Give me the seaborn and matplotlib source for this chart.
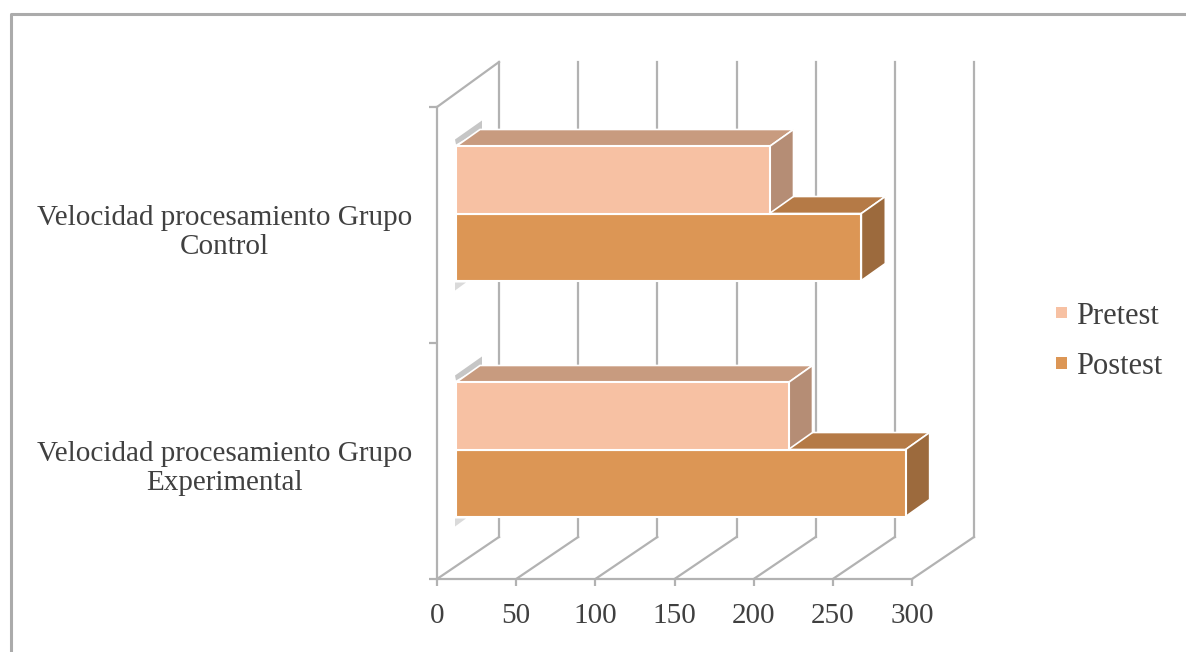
import matplotlib
matplotlib.use("Agg")
import matplotlib.pyplot as plt
import pandas as pd
import seaborn as sns
from matplotlib.lines import Line2D
from matplotlib.patches import Polygon
from matplotlib.transforms import Affine2D, IdentityTransform

# Chart values
grupos = ["Velocidad procesamiento Grupo\nControl",
          "Velocidad procesamiento Grupo\nExperimental"]
pretest = [198, 210]
postest = [256, 284]
series = ["Pretest", "Postest"]
x_ticks = [0, 50, 100, 150, 200, 250, 300]

# Colours for the front, top and side faces of each series
front = {"Pretest": "#F7C1A3", "Postest": "#DC9655"}
top = {"Pretest": "#C89B7F", "Postest": "#B57A46"}
side = {"Pretest": "#B58D75", "Postest": "#9C6A3D"}
LINE = "#B2B2B2"
TEXT = "#404040"

W, H = 1186, 652
sns.set_theme(style="white")
plt.rcParams["font.family"] = ["Liberation Serif", "DejaVu Serif"]

fig = plt.figure(figsize=(W / 100, H / 100), dpi=100, facecolor="white")
ax = fig.add_axes([437 / W, (H - 579) / H, (912 - 437) / W, (579 - 107) / H])
ax.patch.set_visible(False)

df = pd.DataFrame({
    "grupo": grupos * 2,
    "prueba": ["Pretest"] * 2 + ["Postest"] * 2,
    "valor": pretest + postest,
})
sns.barplot(data=df, y="grupo", x="valor", hue="prueba", order=grupos,
            hue_order=series, palette=front, orient="y", width=0.568, gap=0,
            saturation=1, edgecolor="white", linewidth=1.5, ax=ax, legend=False)

ax.set_xlim(0, 300)
ax.set_ylim(1.5, -0.5)
ax.set_xlabel("")
ax.set_ylabel("")
ax.set_xticks(x_ticks)
ax.set_yticks([0, 1])
ax.set_yticks([-0.5, 0.5, 1.5], minor=True)
ax.tick_params(axis="x", length=5, width=1.6, color=LINE, labelcolor=TEXT,
               labelsize=21, pad=12, bottom=True)
ax.tick_params(axis="y", which="major", length=0, labelcolor=TEXT,
               labelsize=21, pad=18)
ax.tick_params(axis="y", which="minor", length=6, width=1.6, color=LINE, left=True)
for lab in ax.get_yticklabels():
    lab.set_multialignment("center")
    lab.set_linespacing(1.14)
    lab.set_transform(lab.get_transform() + Affine2D().translate(0, -3))
for s in ("top", "right"):
    ax.spines[s].set_visible(False)
for s in ("left", "bottom"):
    ax.spines[s].set_color(LINE)
    ax.spines[s].set_linewidth(1.6)


def to_px(x, y):
    """Data position to display pixels."""
    return ax.transData.transform((x, y))


def pline(xs, ys):
    ax.add_artist(Line2D(xs, ys, color=LINE, lw=1.6, transform=IdentityTransform(),
                         clip_on=False, zorder=1, solid_capstyle="projecting"))


# Back wall, floor and side wall of the 3D box
WALL_DX, WALL_DY = 62, 42
floor_y = to_px(0, 1.5)[1]
top_y = to_px(0, -0.5)[1]
for t in x_ticks:
    px = to_px(t, 1.5)[0]
    pline([px, px + WALL_DX], [floor_y, floor_y + WALL_DY])
    pline([px + WALL_DX, px + WALL_DX], [floor_y + WALL_DY, H - 62])
pline([to_px(0, 0)[0], to_px(0, 0)[0] + WALL_DX], [top_y, H - 62])

# Bars sit partway into the box; each one gets a depth offset and extrusion
SHIFT_X, SHIFT_Y = 19, 11.5
DEPTH_X, DEPTH_Y = 24, 17
layer = {"Postest": (2.5, 3), "Pretest": (4, 5)}
for name, container in zip(series, ax.containers):
    face_z, front_z = layer[name]
    for bar in container:
        bar.set_transform(ax.transData + Affine2D().translate(SHIFT_X, SHIFT_Y))
        bar.set_clip_on(False)
        bar.set_zorder(front_z)
        x0, y0 = to_px(0, bar.get_y())
        x1, y1 = to_px(bar.get_width(), bar.get_y() + bar.get_height())
        x0, x1 = x0 + SHIFT_X, x1 + SHIFT_X
        ytop, ybot = y0 + SHIFT_Y, y1 + SHIFT_Y
        top_face = [(x0, ytop), (x0 + DEPTH_X, ytop + DEPTH_Y),
                    (x1 + DEPTH_X, ytop + DEPTH_Y), (x1, ytop)]
        side_face = [(x1, ytop), (x1 + DEPTH_X, ytop + DEPTH_Y),
                     (x1 + DEPTH_X, ybot + DEPTH_Y), (x1, ybot)]
        for verts, col in ((top_face, top[name]), (side_face, side[name])):
            ax.add_artist(Polygon(verts, closed=True, facecolor=col, edgecolor="white",
                                  linewidth=1.2, transform=IdentityTransform(),
                                  clip_on=False, zorder=face_z))
        if name == "Pretest":
            # Thin shadow sliver behind the upper-left corner
            ax.add_artist(Polygon([(x0 - 1, ytop + 7), (x0 + 26, ytop + 26),
                                   (x0 + 26, ytop + 17), (x0, ytop + 2)],
                                  closed=True, facecolor="#C6C6C6", edgecolor="none",
                                  transform=IdentityTransform(), clip_on=False, zorder=2))
        else:
            ax.add_artist(Polygon([(x0 - 1, ybot - 2), (x0 + 10, ybot - 2), (x0 - 1, ybot - 10)],
                                  closed=True, facecolor="#DADADA", edgecolor="none",
                                  transform=IdentityTransform(), clip_on=False, zorder=2))

# Legend with small square keys
handles = [plt.Rectangle((0, 0), 1, 1, facecolor=front[n], edgecolor="none") for n in series]
fig.legend(handles, series, loc="upper left", bbox_to_anchor=(1056 / W, (H - 302) / H),
           frameon=False, fontsize=22, labelcolor=TEXT, borderpad=0, borderaxespad=0,
           handlelength=0.37, handleheight=0.18, handletextpad=0.3, labelspacing=0.69)

# Outer chart frame, open on the right and at the bottom
fig.add_artist(Line2D([11 / W, 11 / W, 1], [0, (H - 14) / H, (H - 14) / H],
                      color="#ABABAB", lw=2.2, transform=fig.transFigure))

fig.savefig("out.png", dpi=100)
